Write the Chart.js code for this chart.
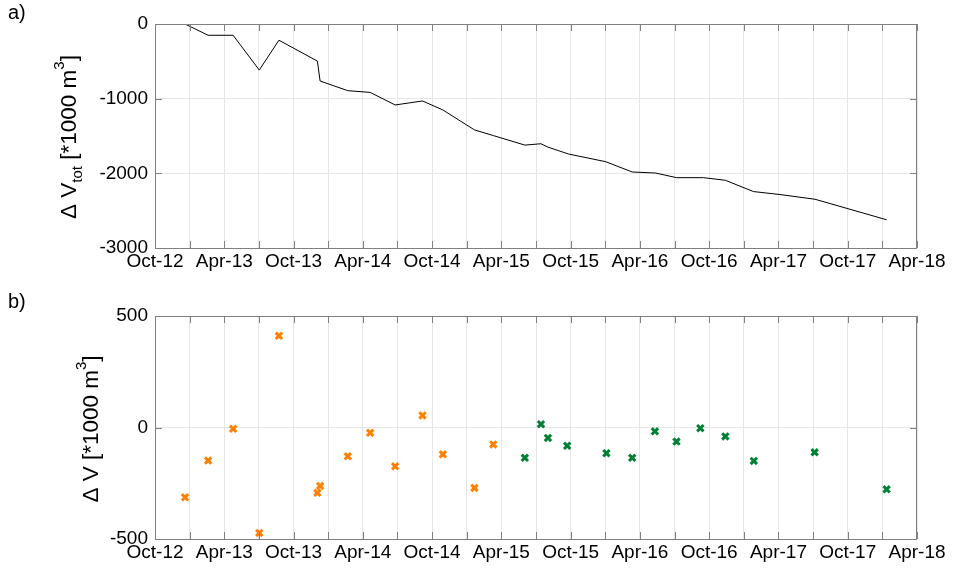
<!DOCTYPE html>
<html>
<head>
<meta charset="utf-8">
<script src="https://cdn.jsdelivr.net/npm/chart.js@4.4.1/dist/chart.umd.min.js"></script>
<style>
  html,body{margin:0;padding:0;background:#fff}
  #wrap{position:relative;width:958px;height:573px;font-family:"Liberation Sans",Arial,sans-serif}
  canvas{position:absolute;left:0}
  .lbl{position:absolute;font-size:20px;color:#000}
</style>
</head>
<body>
<div id="wrap">
  <canvas id="topChart" width="958" height="290" style="top:0"></canvas>
  <canvas id="botChart" width="958" height="283" style="top:290px"></canvas>
  <div class="lbl" style="left:8px;top:1px">a)</div>
  <div class="lbl" style="left:8px;top:290px">b)</div>
</div>
<script>
// x tick labels (every 6 months, ticks every 3 months)
const tickLabels = ['Oct-12','Apr-13','Oct-13','Apr-14','Oct-14','Apr-15','Oct-15','Apr-16','Oct-16','Apr-17','Oct-17','Apr-18']

// a) cumulative volume change
const totDates = ['2012-12-19','2013-02-19','2013-04-24','2013-07-02','2013-08-23','2013-12-03','2013-12-10','2014-02-22','2014-04-20','2014-06-25','2014-09-06','2014-10-29','2015-01-21','2015-03-10','2015-06-02','2015-07-14','2015-08-02','2015-09-26','2016-01-02','2016-03-11','2016-05-12','2016-07-06','2016-09-16','2016-11-13','2017-01-26','2017-04-05','2017-07-06','2018-01-12']
const totVals = [0,-151,-151,-617,-217,-497,-764,-893,-916,-1084,-1031,-1151,-1418,-1494,-1622,-1604,-1649,-1742,-1844,-1982,-1996,-2058,-2058,-2093,-2244,-2284,-2347,-2622]

// b) volume change per interval
const orangeDates = ['2012-12-19','2013-02-19','2013-04-24','2013-07-02','2013-08-23','2013-12-03','2013-12-10','2014-02-22','2014-04-20','2014-06-25','2014-09-06','2014-10-29','2015-01-21','2015-03-10']
const orangeVals = [-313,-148,-6,-473,411,-293,-262,-129,-24,-174,54,-120,-271,-76]
const greenDates = ['2015-06-02','2015-07-14','2015-08-02','2015-09-22','2016-01-04','2016-03-11','2016-05-10','2016-07-06','2016-09-08','2016-11-13','2017-01-27','2017-07-05','2018-01-12']
const greenVals = [-136,15,-47,-82,-115,-136,-17,-63,-3,-40,-150,-111,-277]

const FONT = '"Liberation Sans", Arial, sans-serif'
const BOX = '#808080'

function toMonth(s){ const [y,m,d] = s.split('-').map(Number); return (y-2012)*12 + (m-10) + (d-1)/30 }
function pts(dates, vals){ return dates.map((d,i)=>({ x: toMonth(d), y: vals[i] })) }

// box + inward tick marks like the original axes
const boxPlugin = {
  id:'box',
  afterDraw(chart){
    const {ctx, chartArea:a, scales} = chart
    ctx.save()
    ctx.strokeStyle = BOX; ctx.lineWidth = 1
    ctx.strokeRect(a.left+0.5, a.top+0.5, a.right-a.left-1, a.bottom-a.top)
    ctx.beginPath()
    scales.x.ticks.forEach(t=>{
      const px = Math.round(scales.x.getPixelForValue(t.value))+0.5
      ctx.moveTo(px, a.bottom); ctx.lineTo(px, a.bottom-7)
      ctx.moveTo(px, a.top); ctx.lineTo(px, a.top+7)
    })
    scales.y.ticks.forEach(t=>{
      const py = Math.round(scales.y.getPixelForValue(t.value))+0.5
      ctx.moveTo(a.left, py); ctx.lineTo(a.left+7, py)
      ctx.moveTo(a.right, py); ctx.lineTo(a.right-7, py)
    })
    ctx.stroke()
    // y title with sub/superscripts
    const o = chart.options.plugins.yTitle
    if(o){
      ctx.translate(o.x, o.y); ctx.rotate(-Math.PI/2)
      ctx.fillStyle = '#000'; ctx.textBaseline = 'middle'; ctx.textAlign = 'left'
      const big = '22.5px '+FONT, small = '15px '+FONT
      let w = 0
      o.parts.forEach(p=>{ ctx.font = p[1] ? small : big; w += ctx.measureText(p[0]).width })
      let cx = -w/2
      o.parts.forEach(p=>{
        ctx.font = p[1] ? small : big
        const dy = p[1]===1 ? 8 : (p[1]===-1 ? -10 : 0)
        ctx.fillText(p[0], cx, dy)
        cx += ctx.measureText(p[0]).width
      })
    }
    ctx.restore()
  }
}

function xScale(h, pad){
  return {
    type:'linear', min:0, max:66,
    afterFit: s=>{ s.height = h },
    ticks:{ stepSize:3, autoSkip:false, maxRotation:0, padding:pad, color:'#000', font:{ family:FONT, size:19 },
      callback: v => v%6===0 ? tickLabels[v/6] : '' },
    grid:{ color:'#e6e6e6', drawTicks:false },
    border:{ display:false }
  }
}
function yScale(min, max, step){
  return {
    min, max,
    afterFit: s=>{ s.width = 155 },
    ticks:{ stepSize:step, padding:7, color:'#000', font:{ family:FONT, size:19 }, callback: v => String(v) },
    grid:{ color:'#e6e6e6', drawTicks:false },
    border:{ display:false }
  }
}

new Chart(document.getElementById('topChart'), {
  type:'line',
  data:{ datasets:[{ data: pts(totDates, totVals), borderColor:'#000', borderWidth:1, pointRadius:0, fill:false, tension:0 }] },
  options:{
    responsive:false, animation:false,
    layout:{ padding:{ top:24, right:41, left:0, bottom:0 } },
    plugins:{ legend:{ display:false }, tooltip:{ enabled:false },
      yTitle:{ x:70, y:137, parts:[['\u0394 V',0],['tot',1],[' [*1000 m',0],['3',-1],[']',0]] } },
    scales:{ x: xScale(42, 2), y: yScale(-3000, 0, 1000) }
  },
  plugins:[boxPlugin]
})

new Chart(document.getElementById('botChart'), {
  type:'scatter',
  data:{ datasets:[
    { data: pts(orangeDates, orangeVals), pointStyle:'crossRot', pointRadius:4.5, borderWidth:3, borderColor:'#ff8000', backgroundColor:'#ff8000' },
    { data: pts(greenDates, greenVals), pointStyle:'crossRot', pointRadius:4.5, borderWidth:3, borderColor:'#008033', backgroundColor:'#008033' }
  ] },
  options:{
    responsive:false, animation:false,
    layout:{ padding:{ top:26, right:41, left:0, bottom:0 } },
    plugins:{ legend:{ display:false }, tooltip:{ enabled:false },
      yTitle:{ x:92, y:139, parts:[['\u0394 V [*1000 m',0],['3',-1],[']',0]] } },
    scales:{ x: xScale(34, 2), y: yScale(-500, 500, 500) }
  },
  plugins:[boxPlugin]
})
</script>
</body>
</html>
